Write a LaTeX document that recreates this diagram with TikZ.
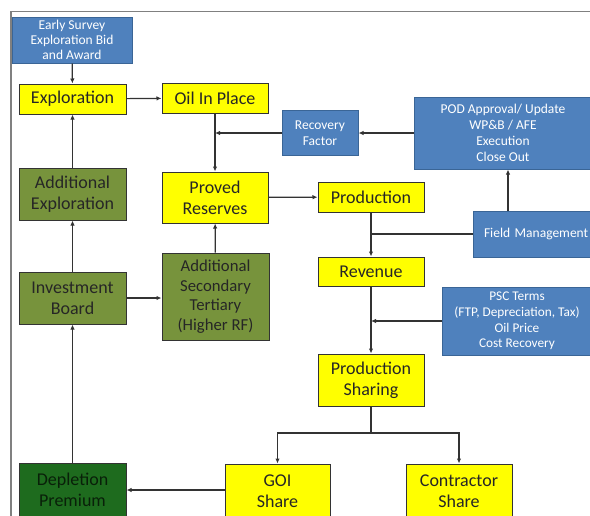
\documentclass[tikz,border=0pt]{standalone}
\usepackage{fontspec}
\setmainfont{Carlito}
\usetikzlibrary{arrows.meta}

\definecolor{amarelo}{HTML}{FFFF00}
\definecolor{oliva}{HTML}{77933C}
\definecolor{azul}{HTML}{4F81BD}
\definecolor{azulborda}{HTML}{3A6596}
\definecolor{verde}{HTML}{1E6B1E}
\definecolor{linha}{HTML}{333333}

\tikzset{
  caixa/.style={draw=linha, line width=1pt, inner sep=0pt, align=center},
  ybox/.style={caixa, fill=amarelo, text=black!85, font=\fontsize{18}{21}\selectfont},
  gbox/.style={caixa, fill=oliva, text=black!85, font=\fontsize{18}{21}\selectfont},
  dbox/.style={caixa, fill=verde, text=black!70!verde, font=\fontsize{18}{21}\selectfont},
  bbox/.style={caixa, draw=azulborda, fill=azul, text=white, font=\fontsize{13.5}{16}\selectfont},
  seta/.style={draw=linha, line width=1.2pt, -{Latex[length=5pt,width=4.5pt]}},
  liga/.style={draw=linha, line width=1.2pt}
}

\begin{document}
\begin{tikzpicture}[x=1pt, y=-1pt]
\useasboundingbox (0,0) rectangle (590,515);
\clip (0,0) rectangle (590,515);

% Moldura
\draw[gray, line width=1.5pt] (11,530) -- (11,11.5) -- (600,11.5);

% Coluna esquerda
\node[bbox, minimum width=120pt, minimum height=46pt, font=\fontsize{13.5}{15}\selectfont] (early) at (72,40) {Early Survey\\Exploration Bid\\and Award};
\node[ybox, minimum width=107pt, minimum height=30pt] (explo) at (72.5,99) {Exploration};
\node[gbox, minimum width=107pt, minimum height=52pt] (addexp) at (72.5,194) {Additional\\Exploration};
\node[gbox, minimum width=107pt, minimum height=52pt] (invest) at (72.5,298) {Investment\\Board};
\node[dbox, minimum width=107pt, minimum height=54pt] (deplet) at (72.5,490) {Depletion\\Premium};

% Coluna do meio
\node[ybox, minimum width=106pt, minimum height=30pt] (oip) at (215,98) {Oil In Place};
\node[ybox, minimum width=106pt, minimum height=51pt] (proved) at (215,197.5) {Proved\\Reserves};
\node[gbox, minimum width=107pt, minimum height=87pt, font=\fontsize{16.7}{19.5}\selectfont] (addsec) at (215.5,296.5) {Additional\\Secondary\\Tertiary\\(Higher RF)};
\node[ybox, minimum width=105pt, minimum height=54pt] (goi) at (277.5,491) {GOI\\Share};

% Producao
\node[bbox, minimum width=76pt, minimum height=45pt] (recov) at (320,133) {Recovery\\Factor};
\node[ybox, minimum width=106pt, minimum height=30pt] (prod) at (371,197) {Production};
\node[ybox, minimum width=106pt, minimum height=29pt] (rev) at (371,271.5) {Revenue};
\node[ybox, minimum width=106pt, minimum height=52pt] (prodsh) at (371,380) {Production\\Sharing};
\node[ybox, minimum width=106pt, minimum height=54pt] (contr) at (459,491) {Contractor\\Share};

% Caixas azuis da direita
\node[bbox, minimum width=178pt, minimum height=72pt] (pod) at (503,133) {POD Approval/ Update\\WP\&B / AFE\\Execution\\Close Out};
\node[bbox, minimum width=119pt, minimum height=46pt, text width=119pt, align=left] (field) at (532.5,234) {\hspace{11pt}Field Management};
\node[bbox, minimum width=150pt, minimum height=68pt, font=\fontsize{13.3}{15.7}\selectfont] (psc) at (517,321) {PSC Terms\\(FTP, Depreciation, Tax)\\Oil Price\\Cost Recovery};

% Ligacoes
\draw[seta] (early) -- (explo);
\draw[seta] (explo) -- (oip);
\draw[seta] (oip) -- (proved);
\draw[seta] (recov.west) -- (recov.west -| oip.south);
\draw[seta] (pod.west) -- (recov.east);
\draw[seta] (addexp) -- (explo);
\draw[seta] (invest) -- (addexp);
\draw[seta] (deplet) -- (invest);
\draw[seta] (invest.east) -- (invest.east -| addsec.west);
\draw[seta] (addsec) -- (proved);
\draw[seta] (proved) -- (prod);
\draw[seta] (prod) -- (rev);
\draw[liga] (field.west) -- (field.west -| prod.south);
\draw[seta] ([xshift=-24.5pt]field.north) -- ([xshift=-24.5pt]field.north |- pod.south);
\draw[seta] (rev) -- (prodsh);
\draw[seta] (psc.west) -- (psc.west -| rev.south);

\coordinate (split) at (371,433);
\draw[liga] (prodsh) -- (split);
\draw[seta] (split) -| (goi);
\draw[seta] (split) -| (contr);
\draw[seta] (goi.west |- deplet) -- (deplet.east);

% Grid
%\draw[help lines, step=50] (0,0) grid (590,515);

\end{tikzpicture}
\end{document}
